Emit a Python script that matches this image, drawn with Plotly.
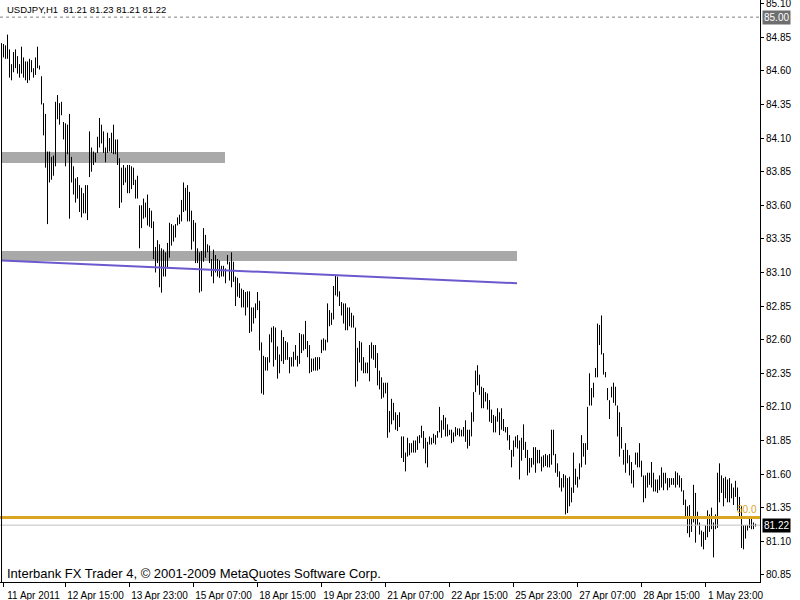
import plotly.graph_objects as go

symbol_title = "USDJPY,H1  81.21 81.23 81.21 81.22"
footer_text = "Interbank FX Trader 4, © 2001-2009 MetaQuotes Software Corp."

highs = [
    84.80, 84.79, 84.87, 84.76, 84.65, 84.74, 84.76, 84.71, 84.65, 84.78,
    84.70, 84.67, 84.67, 84.69, 84.68, 84.62, 84.70, 84.78, 84.64, 84.56,
    84.36, 84.28, 84.00, 84.00, 83.96, 83.97, 84.37, 84.42, 84.36, 84.37,
    84.22, 84.21, 84.20, 84.28, 83.96, 83.89, 83.80, 83.81, 83.75, 83.73,
    83.69, 83.75, 83.75, 84.15, 84.03, 84.00, 83.99, 84.11, 84.25, 84.20,
    84.15, 84.03, 84.14, 84.10, 84.14, 84.20, 84.09, 84.09, 83.95, 83.88,
    83.90, 83.88, 83.90, 83.90,
    83.89, 83.88, 83.79, 83.82, 83.60, 83.60, 83.65, 83.62, 83.68, 83.58,
    83.56, 83.48, 83.29, 83.34, 83.31, 83.28, 83.27, 83.25, 83.32, 83.47,
    83.46, 83.45, 83.46, 83.51, 83.53, 83.64, 83.77, 83.73, 83.75, 83.70,
    83.56, 83.49, 83.47, 83.28, 83.25, 83.26, 83.43, 83.38, 83.31, 83.30,
    83.20, 83.27, 83.23, 83.20, 83.19, 83.15, 83.15, 83.13, 83.23, 83.18,
    83.25, 83.18, 83.07, 83.06, 83.02, 82.98, 82.97, 82.955, 82.96, 82.96,
    82.84, 82.84,
    82.87, 82.955, 82.89, 82.58, 82.48, 82.47, 82.47, 82.64, 82.69, 82.70,
    82.69, 82.55, 82.49, 82.67, 82.62, 82.59, 82.58, 82.47, 82.47, 82.51,
    82.56, 82.48, 82.65, 82.64, 82.64, 82.74, 82.59, 82.56, 82.46, 82.46,
    82.47, 82.47, 82.47, 82.60, 82.61, 82.60, 82.87, 82.82, 82.80, 83.00,
    83.08, 83.07, 82.96, 82.88, 82.87, 82.87, 82.84, 82.84, 82.80, 82.78,
    82.69, 82.54, 82.59, 82.58, 82.47, 82.43, 82.43, 82.56, 82.58, 82.56,
    82.56, 82.50, 82.37,
    82.32, 82.28, 82.28, 82.28, 82.07, 82.16, 82.13, 82.06, 82.04, 82.06,
    81.88, 81.88, 81.76, 81.87, 81.83, 81.83, 81.85, 81.85, 81.88, 81.89,
    81.96, 81.92, 81.87, 81.84, 81.88, 81.87, 81.90, 81.89, 81.92, 82.10,
    82.00, 82.04, 82.02, 81.97, 81.93, 81.93, 81.91, 81.95, 81.94, 81.94,
    81.93, 81.95, 82.00, 81.93, 81.93, 82.06, 82.21, 82.37, 82.41, 82.34,
    82.25, 82.24, 82.21, 82.20, 82.15, 82.08, 82.04, 82.03, 82.09, 82.06,
    82.09, 82.01,
    81.95, 81.95, 81.89, 81.78, 81.85, 81.88, 81.89, 81.85, 81.87, 81.97,
    81.84, 81.78, 81.72, 81.72, 81.80, 81.80, 81.78, 81.78, 81.73, 81.74,
    81.75, 81.74, 81.75, 81.93, 81.93, 81.75, 81.68, 81.62, 81.57, 81.60,
    81.59, 81.57, 81.58, 81.50, 81.76, 81.64, 81.58, 81.68, 81.89, 81.83,
    81.83, 82.10, 82.35, 82.24, 82.28, 82.39, 82.72, 82.71, 82.78, 82.50,
    82.36, 82.24, 82.15, 82.25, 82.28, 82.25, 82.11, 82.06, 81.95, 81.78,
    81.83, 81.78, 81.74,
    81.69, 81.63, 81.76, 81.76, 81.83, 81.70, 81.59, 81.59, 81.61, 81.61,
    81.69, 81.61, 81.56, 81.56, 81.59, 81.65, 81.61, 81.61, 81.57, 81.57,
    81.57, 81.57, 81.62, 81.61, 81.59, 81.57, 81.48, 81.41, 81.36, 81.37,
    81.28, 81.52, 81.46, 81.32, 81.24, 81.18, 81.17, 81.22, 81.33, 81.30,
    81.35, 81.24, 81.30, 81.61, 81.68, 81.59, 81.57, 81.58, 81.56, 81.57,
    81.53, 81.50, 81.55, 81.50, 81.43, 81.36, 81.22, 81.22, 81.22, 81.27,
    81.27, 81.24, 81.23,
]

lows = [
    84.70, 84.69, 84.69, 84.55, 84.53, 84.59, 84.62, 84.58, 84.55, 84.58,
    84.55, 84.53, 84.51, 84.53, 84.59, 84.55, 84.57, 84.62, 84.61, 84.35,
    84.12, 83.88, 83.46, 83.77, 83.79, 83.82, 83.89, 84.24, 84.20, 84.27,
    84.09, 83.89, 83.98, 83.50, 83.77, 83.68, 83.62, 83.65, 83.55, 83.51,
    83.54, 83.54, 83.49, 83.81, 83.85, 83.90, 83.92, 83.99, 84.03, 84.06,
    83.99, 83.92, 83.99, 84.00, 83.99, 83.98, 83.98, 83.90, 83.58, 83.62,
    83.75, 83.77, 83.69, 83.69,
    83.72, 83.75, 83.65, 83.65, 83.28, 83.43, 83.50, 83.51, 83.45, 83.44,
    83.43, 83.20, 83.10, 83.17, 82.99, 82.95, 83.07, 83.07, 83.13, 83.21,
    83.30, 83.33, 83.36, 83.45, 83.46, 83.48, 83.55, 83.56, 83.48, 83.48,
    83.27, 83.33, 83.17, 83.17, 82.95, 82.96, 83.18, 83.21, 83.25, 83.17,
    83.07, 83.02, 83.10, 83.07, 83.06, 83.07, 83.07, 83.02, 83.16, 83.04,
    82.99, 83.03, 82.85, 82.92, 82.91, 82.84, 82.84, 82.78, 82.84, 82.65,
    82.66, 82.72,
    82.76, 82.82, 82.52, 82.20, 82.19, 82.37, 82.37, 82.43, 82.58, 82.40,
    82.45, 82.31, 82.35, 82.44, 82.42, 82.45, 82.45, 82.35, 82.40, 82.40,
    82.45, 82.40, 82.42, 82.50, 82.52, 82.53, 82.47, 82.35, 82.36, 82.37,
    82.37, 82.37, 82.38, 82.50, 82.52, 82.52, 82.58, 82.70, 82.71, 82.75,
    82.93, 82.92, 82.85, 82.78, 82.72, 82.67, 82.67, 82.70, 82.69, 82.69,
    82.25, 82.29, 82.43, 82.37, 82.35, 82.35, 82.35, 82.29, 82.46, 82.45,
    82.39, 82.26, 82.23,
    82.16, 82.17, 82.20, 81.87, 81.91, 81.97, 82.00, 81.93, 81.92, 81.95,
    81.72, 81.69, 81.62, 81.73, 81.74, 81.76, 81.76, 81.76, 81.78, 81.83,
    81.87, 81.79, 81.68, 81.65, 81.82, 81.82, 81.83, 81.82, 81.87, 81.91,
    81.87, 81.93, 81.88, 81.88, 81.89, 81.83, 81.84, 81.88, 81.89, 81.88,
    81.88, 81.88, 81.84, 81.79, 81.81, 81.88, 81.99, 82.21, 82.26, 82.19,
    82.09, 82.09, 82.14, 82.08, 81.99, 81.98, 81.91, 81.91, 81.99, 81.89,
    81.93, 81.92,
    81.91, 81.85, 81.78, 81.65, 81.73, 81.80, 81.79, 81.56, 81.70, 81.78,
    81.72, 81.59, 81.61, 81.65, 81.67, 81.61, 81.68, 81.68, 81.62, 81.65,
    81.66, 81.65, 81.65, 81.67, 81.74, 81.61, 81.58, 81.50, 81.47, 81.50,
    81.30, 81.31, 81.36, 81.39, 81.46, 81.52, 81.50, 81.56, 81.65, 81.73,
    81.67, 81.78, 82.11, 82.11, 82.17, 82.32, 82.32, 82.56, 82.49, 82.34,
    82.32, 82.15, 82.01, 82.17, 82.13, 82.11, 81.88, 81.73, 81.79, 81.67,
    81.61, 81.68, 81.59,
    81.53, 81.50, 81.67, 81.65, 81.65, 81.58, 81.39, 81.42, 81.50, 81.52,
    81.50, 81.47, 81.47, 81.46, 81.48, 81.50, 81.48, 81.53, 81.48, 81.50,
    81.52, 81.52, 81.50, 81.52, 81.50, 81.47, 81.37, 81.28, 81.16, 81.13,
    81.17, 81.24, 81.09, 81.22, 81.15, 81.06, 81.04, 81.11, 81.13, 81.17,
    81.19, 80.98, 81.19, 81.20, 81.39, 81.46, 81.36, 81.42, 81.39, 81.39,
    81.42, 81.37, 81.43, 81.33, 81.27, 81.05, 81.04, 81.12, 81.18, 81.20,
    81.19, 81.19, 81.21,
]

time_tick_idx = [0, 31, 63, 95, 127, 159, 191, 223, 255, 287, 319, 351]
time_tick_text = ["11 Apr 2011", "12 Apr 15:00", "13 Apr 23:00", "15 Apr 07:00",
                  "18 Apr 15:00", "19 Apr 23:00", "21 Apr 07:00", "22 Apr 15:00",
                  "25 Apr 23:00", "27 Apr 07:00", "28 Apr 15:00", "1 May 23:00"]
price_ticks = [85.10, 84.85, 84.60, 84.35, 84.10, 83.85, 83.60, 83.35, 83.10,
               82.85, 82.60, 82.35, 82.10, 81.85, 81.60, 81.35, 81.10, 80.85]

zone_x_start = [-0.75, -0.75]
zone_x_end = [110.75, 256.75]
zone_low = [83.915, 83.186]
zone_high = [83.996, 83.26]
trend_x = [-0.75, 256.75]
trend_price = [83.19, 83.02]
fib50_level = 81.277
bid_price = 81.22
alert_price = 85.00

X_RANGE = [-1.75, 378.25]
Y_RANGE = [80.797, 85.1275]
FONT = "Tahoma, 'Liberation Sans', Arial, sans-serif"

xs, ys = [], []
for i, (h, l) in enumerate(zip(highs, lows)):
    xs += [i, i, None]
    ys += [l, h, None]

fig = go.Figure(go.Scatter(x=xs, y=ys, mode="lines",
                           line=dict(color="black", width=1),
                           hoverinfo="skip", showlegend=False))

shapes = []
for x0, x1, y0, y1 in zip(zone_x_start, zone_x_end, zone_low, zone_high):
    shapes.append(dict(type="rect", xref="x", yref="y", x0=x0, x1=x1, y0=y0, y1=y1,
                       fillcolor="#A9A9A9", line=dict(width=0), layer="below"))
shapes.append(dict(type="line", xref="x", yref="y", x0=trend_x[0], x1=trend_x[1],
                   y0=trend_price[0], y1=trend_price[1],
                   line=dict(color="#6A5ACD", width=2), layer="above"))
shapes.append(dict(type="line", xref="paper", yref="y", x0=0, x1=1,
                   y0=bid_price, y1=bid_price, line=dict(color="#C0C0C0", width=1), layer="above"))
shapes.append(dict(type="line", xref="paper", yref="y", x0=0, x1=1,
                   y0=fib50_level, y1=fib50_level, line=dict(color="#DAA520", width=3), layer="above"))
shapes.append(dict(type="line", xref="paper", yref="y", x0=0, x1=1,
                   y0=alert_price, y1=alert_price,
                   line=dict(color="#808080", width=1, dash="3px,3px"), layer="above"))
shapes.append(dict(type="line", xref="paper", yref="paper", x0=0.002, x1=0.002,
                   y0=0, y1=0.926, line=dict(color="black", width=1), layer="above"))

annotations = [
    dict(xref="paper", yref="paper", x=0, y=1, xanchor="left", yanchor="top",
         xshift=5, yshift=-2, showarrow=False, text=symbol_title,
         font=dict(family=FONT, size=9.5, color="black")),
    dict(xref="paper", yref="paper", x=0, y=0, xanchor="left", yanchor="bottom",
         xshift=5, yshift=-1, showarrow=False, text=footer_text,
         font=dict(family=FONT, size=13, color="black")),
    dict(xref="paper", yref="y", x=1, y=fib50_level, xanchor="right", yanchor="bottom",
         xshift=-1, yshift=0, showarrow=False, text="50.0",
         font=dict(family=FONT, size=10, color="#DAA520")),
    dict(xref="paper", yref="y", x=1, y=alert_price, xanchor="left", yanchor="middle",
         xshift=2, showarrow=False, text="85.00", bgcolor="#6E6E6E", borderpad=1,
         font=dict(family=FONT, size=10, color="white")),
    dict(xref="paper", yref="y", x=1, y=bid_price, xanchor="left", yanchor="middle",
         xshift=2, showarrow=False, text="81.22", bgcolor="black", borderpad=1,
         font=dict(family=FONT, size=10, color="white")),
]

fig.update_layout(
    template="none", width=800, height=600,
    margin=dict(l=0, r=40, t=0, b=18),
    paper_bgcolor="white", plot_bgcolor="white", showlegend=False,
    font=dict(family=FONT, size=10, color="black"),
    shapes=shapes, annotations=annotations,
)
fig.update_xaxes(range=X_RANGE, tickmode="array", tickvals=time_tick_idx, ticktext=time_tick_text,
                 ticks="outside", ticklen=4, tickcolor="black", tickangle=0,
                 ticklabelshift=30, showgrid=False, zeroline=False,
                 showline=True, linecolor="black", linewidth=1, automargin=False,
                 tickfont=dict(family=FONT, size=10, color="black"))
fig.update_yaxes(range=Y_RANGE, side="right", tickmode="array", tickvals=price_ticks,
                 tickformat=".2f", ticks="outside", ticklen=3, tickcolor="black",
                 showgrid=False, zeroline=False, showline=True, linecolor="black",
                 linewidth=1, automargin=False, ticklabeloverflow="allow",
                 tickfont=dict(family=FONT, size=10, color="black"))

fig.write_html("out.html", config={"displayModeBar": False},
               post_script="document.body.style.margin='0';document.body.style.padding='0';document.body.style.overflow='hidden';")
